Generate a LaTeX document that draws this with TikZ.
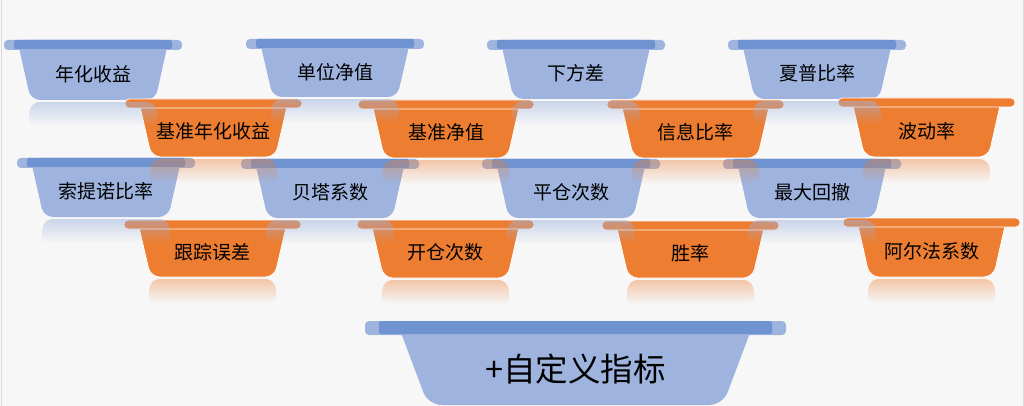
\documentclass[tikz,border=0pt]{standalone}
\usetikzlibrary{fadings}
\usepackage{fontspec}
\newfontfamily\cjk{Noto Sans CJK SC}

\definecolor{bgc}{HTML}{F7F7F7}
\definecolor{edgec}{HTML}{DADADA}
\definecolor{bluebody}{HTML}{9EB4DF}
\definecolor{blueband}{HTML}{6F93D1}
\definecolor{orangebody}{HTML}{ED7D31}

\tikzset{
  blueshape/.style={fill=bluebody},
  orangeshape/.style={fill=orangebody, draw=white, line width=0.8pt},
  blueband/.style={fill=blueband},
  orangeband/.style={},
  bluerefl/.style={fill=bluebody, fill opacity=0.5},
  orangerefl/.style={fill=orangebody, fill opacity=0.4},
  tubtext/.style={font=\cjk\fontsize{19}{21}\selectfont, text=black, inner sep=0pt},
  bigtext/.style={font=\cjk\fontsize{32.5}{36}\selectfont, text=black, inner sep=0pt},
}

% tub: name, left x, top y, width, depth, rim height, blue/orange, text style, text
\newcommand{\tub}[9]{%
  \pgfmathsetmacro\tubR{#2+#4}%
  \pgfmathsetmacro\tubRim{#3+#6}%
  \pgfmathsetmacro\tubBot{#3+#5}%
  \pgfmathsetmacro\tubTop{0.075*#4}%
  \pgfmathsetmacro\tubIn{0.15*#4}%
  \pgfmathsetmacro\tubRad{0.16*#5}%
  % body
  \path[#7shape, rounded corners=\tubRad pt] (#2+0.5*#4,#3) -- (#2+\tubTop,#3)
    -- (#2+\tubIn,\tubBot) -- (\tubR-\tubIn,\tubBot) -- (\tubR-\tubTop,#3) -- cycle;
  % rim
  \path[#7shape, rounded corners=4pt] (#2,#3) rectangle (\tubR,\tubRim);
  \path[#7band, rounded corners=2pt] (#2+#6,#3) rectangle (\tubR-#6,\tubRim-1);
  % label
  \node[#8] (#1) at (#2+0.5*#4,0.5*\tubRim+0.5*\tubBot-1) {#9};
}

% reflection under a tub: left x, top y, width, depth, blue/orange
\newcommand{\tubrefl}[5]{%
  \pgfmathsetmacro\tubR{#1+#3}%
  \pgfmathsetmacro\tubBot{#2+#4}%
  \pgfmathsetmacro\tubIn{0.15*#3}%
  \path[#5refl, path fading=south, rounded corners=9pt] (#1+\tubIn,\tubBot+2)
    -- (#1+\tubIn-3,\tubBot+26) -- (\tubR-\tubIn+3,\tubBot+26) -- (\tubR-\tubIn,\tubBot+2) -- cycle;
}

\begin{document}
\begin{tikzpicture}[x=1pt, y=-1pt]
            % Background and frame
            \useasboundingbox (0,0) rectangle (1024,406);
            \clip (0,0) rectangle (1024,406);
            \fill[bgc] (0,0) rectangle (1024,406);
            \draw[edgec, line width=1pt] (1,0) -- (1,406);
            \draw[edgec, line width=1pt] (1023,0) -- (1023,406);

            % First row, blue
            \tub{nianhua}{4}{40}{178}{60}{10}{blue}{tubtext}{年化收益}
            \tub{danwei}{246}{39}{178}{58}{10}{blue}{tubtext}{单位净值}
            \tub{xiafang}{487}{40}{178}{59}{10}{blue}{tubtext}{下方差}
            \tub{xiapu}{728}{40}{178}{59}{10}{blue}{tubtext}{夏普比率}

            % Second row, orange
            \tub{jznianhua}{125}{99}{177}{58}{9}{orange}{tubtext}{基准年化收益}
            \tub{jzjingzhi}{358}{100}{176}{58}{9}{orange}{tubtext}{基准净值}
            \tub{xinxi}{607}{100}{177}{58}{9}{orange}{tubtext}{信息比率}
            \tub{bodong}{838}{98}{177}{59}{9}{orange}{tubtext}{波动率}

            % Third row, blue
            \tub{suotinuo}{17}{158}{178}{59}{10}{blue}{tubtext}{索提诺比率}
            \tub{beita}{241}{159}{178}{59}{10}{blue}{tubtext}{贝塔系数}
            \tub{pingcang}{482}{159}{178}{59}{10}{blue}{tubtext}{平仓次数}
            \tub{zuida}{723}{159}{178}{59}{10}{blue}{tubtext}{最大回撤}

            % Fourth row, orange
            \tub{genzong}{124}{220}{177}{57}{9}{orange}{tubtext}{跟踪误差}
            \tub{kaicang}{357}{220}{177}{58}{9}{orange}{tubtext}{开仓次数}
            \tub{shenglv}{602}{221}{177}{57}{9}{orange}{tubtext}{胜率}
            \tub{aerfa}{843}{218}{177}{59}{9}{orange}{tubtext}{阿尔法系数}

            % Reflections under the rows
            \tubrefl{4}{40}{178}{60}{blue}
            \tubrefl{246}{39}{178}{58}{blue}
            \tubrefl{487}{40}{178}{59}{blue}
            \tubrefl{728}{40}{178}{59}{blue}
            \tubrefl{125}{99}{177}{58}{orange}
            \tubrefl{358}{100}{176}{58}{orange}
            \tubrefl{607}{100}{177}{58}{orange}
            \tubrefl{838}{98}{177}{59}{orange}
            \tubrefl{17}{158}{178}{59}{blue}
            \tubrefl{241}{159}{178}{59}{blue}
            \tubrefl{482}{159}{178}{59}{blue}
            \tubrefl{723}{159}{178}{59}{blue}
            \tubrefl{124}{220}{177}{57}{orange}
            \tubrefl{357}{220}{177}{58}{orange}
            \tubrefl{602}{221}{177}{57}{orange}
            \tubrefl{843}{218}{177}{59}{orange}

            % Big tub at the bottom
            \tub{zidingyi}{365}{321}{421}{84}{14}{blue}{bigtext}{+自定义指标}
        \end{tikzpicture}
\end{document}
